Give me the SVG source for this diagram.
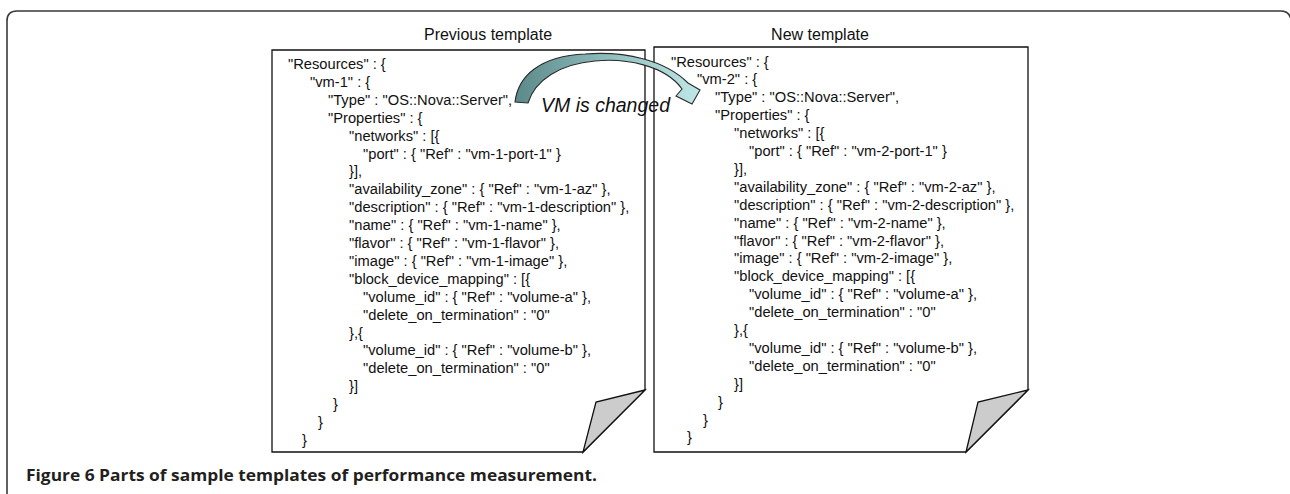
<svg xmlns="http://www.w3.org/2000/svg" width="1290" height="494" viewBox="0 0 1290 494">
<style>
.code{font-family:"Liberation Sans",Arial,sans-serif;font-size:14.7px;fill:#111}
.title{font-family:"Liberation Sans",Arial,sans-serif;font-size:16px;fill:#111;text-anchor:middle}
.page{fill:#fff;stroke:#111;stroke-width:1.3}
.fold{fill:#cccccc;stroke:#111;stroke-width:1.3;stroke-linejoin:miter}
.cap{font-family:"Open Sans","Liberation Sans",Arial,sans-serif;font-size:16.5px;font-weight:bold;fill:#231f20}
</style>
<defs>
<linearGradient id="arrowGrad" x1="0" y1="0" x2="1" y2="0">
<stop offset="0" stop-color="#5b8889"/>
<stop offset="0.5" stop-color="#8fbdbd"/>
<stop offset="1" stop-color="#bfe7e7"/>
</linearGradient>
</defs>
<rect width="1290" height="494" fill="#fff"/>
<g id="frame">
<path d="M7,494 L7,21 Q7,11 17,11 L1281,11 Q1289,11 1291,19" fill="none" stroke="#3a3a3a" stroke-width="1.6"/>
</g>
<g id="page-previous">
<text class="title" x="488" y="40">Previous template</text>
<path class="page" d="M272,50 L645,50 L645,390 L583,452 L272,452 Z"/>
<path class="fold" d="M645,390 L596,402 L583,452 Z"/>
<text class="code">
<tspan x="288" y="69">"Resources" : {</tspan>
<tspan x="310" y="86.9">"vm-1" : {</tspan>
<tspan x="328" y="104.8">"Type" : "OS::Nova::Server",</tspan>
<tspan x="328" y="122.7">"Properties" : {</tspan>
<tspan x="349" y="140.6">"networks" : [{</tspan>
<tspan x="363" y="158.5">"port" : { "Ref" : "vm-1-port-1" }</tspan>
<tspan x="349" y="176.4">}],</tspan>
<tspan x="349" y="194.3">"availability_zone" : { "Ref" : "vm-1-az" },</tspan>
<tspan x="349" y="212.2">"description" : { "Ref" : "vm-1-description" },</tspan>
<tspan x="349" y="230.1">"name" : { "Ref" : "vm-1-name" },</tspan>
<tspan x="349" y="248">"flavor" : { "Ref" : "vm-1-flavor" },</tspan>
<tspan x="349" y="265.9">"image" : { "Ref" : "vm-1-image" },</tspan>
<tspan x="349" y="283.8">"block_device_mapping" : [{</tspan>
<tspan x="363" y="301.7">"volume_id" : { "Ref" : "volume-a" },</tspan>
<tspan x="363" y="319.6">"delete_on_termination" : "0"</tspan>
<tspan x="349" y="337.5">},{</tspan>
<tspan x="363" y="355.4">"volume_id" : { "Ref" : "volume-b" },</tspan>
<tspan x="363" y="373.3">"delete_on_termination" : "0"</tspan>
<tspan x="349" y="391.2">}]</tspan>
<tspan x="333" y="409.1">}</tspan>
<tspan x="318" y="427">}</tspan>
<tspan x="302" y="444.9">}</tspan>
</text>
</g>
<g id="page-new">
<text class="title" x="820" y="40">New template</text>
<path class="page" d="M654,47 L1028,47 L1028,390 L966,452 L654,452 Z"/>
<path class="fold" d="M1028,390 L978,402 L966,452 Z"/>
<text class="code">
<tspan x="671" y="66.5">"Resources" : {</tspan>
<tspan x="697" y="84.4">"vm-2" : {</tspan>
<tspan x="715" y="102.3">"Type" : "OS::Nova::Server",</tspan>
<tspan x="715" y="120.2">"Properties" : {</tspan>
<tspan x="734" y="138.1">"networks" : [{</tspan>
<tspan x="749" y="156">"port" : { "Ref" : "vm-2-port-1" }</tspan>
<tspan x="734" y="173.9">}],</tspan>
<tspan x="734" y="191.8">"availability_zone" : { "Ref" : "vm-2-az" },</tspan>
<tspan x="734" y="209.7">"description" : { "Ref" : "vm-2-description" },</tspan>
<tspan x="734" y="227.6">"name" : { "Ref" : "vm-2-name" },</tspan>
<tspan x="734" y="245.5">"flavor" : { "Ref" : "vm-2-flavor" },</tspan>
<tspan x="734" y="263.4">"image" : { "Ref" : "vm-2-image" },</tspan>
<tspan x="734" y="281.3">"block_device_mapping" : [{</tspan>
<tspan x="749" y="299.2">"volume_id" : { "Ref" : "volume-a" },</tspan>
<tspan x="749" y="317.1">"delete_on_termination" : "0"</tspan>
<tspan x="734" y="335">},{</tspan>
<tspan x="749" y="352.9">"volume_id" : { "Ref" : "volume-b" },</tspan>
<tspan x="749" y="370.8">"delete_on_termination" : "0"</tspan>
<tspan x="734" y="388.7">}]</tspan>
<tspan x="718" y="406.6">}</tspan>
<tspan x="703" y="424.5">}</tspan>
<tspan x="687" y="442.4">}</tspan>
</text>
</g>
<g id="connectors">
<path d="M515,102 C518,76 540,56 585,54 C625,51 665,60 688,83 L700,90 L692,104 L676,96 L682,89 C665,65 625,58 595,61 C560,64 535,80 528,103 Z" fill="url(#arrowGrad)" stroke="#2a2a2a" stroke-width="1.1" stroke-linejoin="miter"/>
<text x="541" y="111.5" font-family="'Liberation Sans',Arial,sans-serif" font-size="19.5" font-style="italic" fill="#111" textLength="129" lengthAdjust="spacingAndGlyphs">VM is changed</text>
</g>
<text class="cap" x="26" y="481" textLength="571" lengthAdjust="spacingAndGlyphs">Figure 6 Parts of sample templates of performance measurement.</text>
</svg>
